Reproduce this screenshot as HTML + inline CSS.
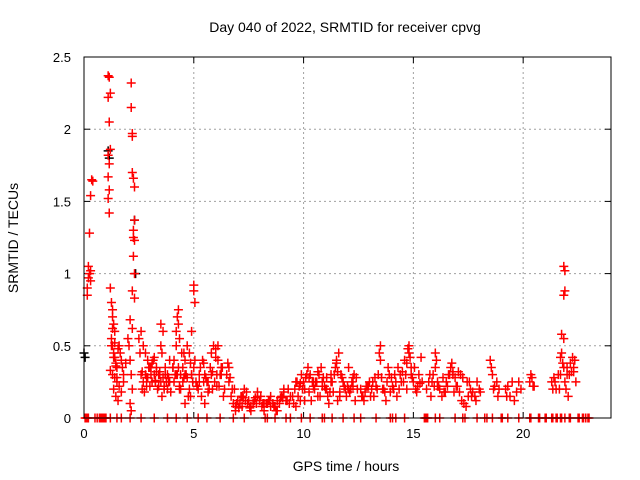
<!DOCTYPE html>
<html><head><meta charset="utf-8"><style>
html,body{margin:0;padding:0;background:#fff;}
svg{display:block;font-family:"Liberation Sans",sans-serif;}
</style></head><body>
<svg id="chart" width="640" height="480">
<text x="345" y="32" font-size="14" text-anchor="middle">Day 040 of 2022, SRMTID for receiver cpvg</text>
<text x="346" y="471" font-size="14" text-anchor="middle">GPS time / hours</text>
<text transform="translate(18,238) rotate(-90)" font-size="14" text-anchor="middle">SRMTID / TECUs</text>
<g id="grid"></g><g id="axes"></g><g id="marks"></g>
<rect x="84" y="57" width="527" height="361" fill="none" stroke="#000" stroke-width="1"/>
</svg>
<script>
const xTicks=[0,5,10,15,20];
const yTicks=[0,0.5,1,1.5,2,2.5];
const yTickLabels=["0","0.5","1","1.5","2","2.5"];
const zeroTimes=[0.05,0.1,0.15,0.2,0.5,0.6,0.7,0.75,0.8,0.85,0.9,0.95,1.0,1.2,1.5,1.7,2.1,2.6,3.2,3.8,4.2,4.7,5.2,5.6,6.2,6.8,7.3,8.25,8.35,8.7,9.2,9.4,9.9,10.3,10.85,10.95,11.3,11.8,12.3,12.6,13.3,13.95,14.05,14.2,14.6,15.5,15.55,15.6,15.65,16.0,16.2,16.9,17.25,17.35,17.9,18.25,18.35,18.6,19.0,19.05,19.3,19.8,20.3,20.35,20.7,20.75,21.0,21.05,21.3,21.35,21.5,21.55,21.7,21.75,21.9,22.1,22.15,22.5,22.55,22.7,22.75,22.85,22.95,23.0];
const blackTimes=[0.0,0.05,1.1,1.15,2.3,2.35];
const blackValues=[0.45,0.42,1.85,1.8,1.37,1.0];
const times=[
0.15,0.15,0.2,0.2,0.25,0.3,0.3,0.25,0.3,0.35,0.4,
1.1,1.15,1.2,1.1,1.15,1.2,1.1,1.15,1.1,1.15,1.1,1.15,
1.2,1.25,1.3,1.3,1.35,1.4,1.25,1.3,1.35,1.4,1.45,1.5,1.2,1.3,1.4,1.5,1.6,1.55,1.65,1.7,1.75,1.8,1.6,1.7,1.8,1.9,1.45,1.55,
2.15,2.15,2.2,2.2,2.2,2.25,2.3,2.3,2.25,2.25,2.3,2.25,2.3,2.2,2.3,2.1,2.2,2.0,2.05,2.1,2.15,2.2,2.1,2.15,
2.5,2.6,2.7,2.8,2.9,3.0,3.1,3.2,3.3,3.4,3.5,3.6,3.7,3.8,3.9,2.6,2.7,2.8,2.9,3.0,3.1,3.2,3.3,3.4,3.5,3.6,3.7,3.8,3.9,2.55,2.75,2.95,3.15,3.35,3.55,3.75,3.95,3.5,3.55,
4.1,4.2,4.2,4.25,4.3,4.3,4.35,4.4,4.5,4.6,4.7,4.8,4.9,5.0,5.0,5.05,4.1,4.2,4.3,4.4,4.5,4.6,4.7,4.8,4.9,5.0,5.1,5.2,4.15,4.45,4.75,5.05,4.6,4.9,
5.3,5.4,5.5,5.6,5.7,5.8,5.9,6.0,6.1,6.2,6.3,6.4,5.35,5.55,5.75,5.95,6.15,6.35,5.5,5.8,6.0,6.1,
6.5,6.6,6.7,6.8,6.9,7.0,7.1,7.2,7.3,7.4,7.5,7.6,7.7,7.8,7.9,8.0,8.1,8.2,8.3,8.4,8.5,8.6,8.7,8.8,8.9,9.0,9.1,9.2,9.3,9.4,6.6,6.75,6.9,7.05,7.2,7.35,7.6,7.9,8.2,8.5,8.8,9.1,
9.5,9.6,9.7,9.8,9.9,10.0,10.1,10.2,10.3,10.4,10.5,10.6,10.7,10.8,10.9,11.0,11.1,11.2,11.3,11.4,11.5,11.6,11.7,11.8,11.9,12.0,12.1,12.2,12.3,12.4,9.55,9.75,9.95,10.15,10.35,10.55,10.75,10.95,11.15,11.35,11.55,11.75,11.95,12.15,12.35,11.45,11.5,11.55,
12.6,12.7,12.8,12.9,13.0,13.1,13.2,13.3,13.4,13.5,13.6,13.7,13.8,13.9,14.0,14.1,14.2,14.3,14.4,14.5,14.6,14.7,14.8,14.9,15.0,15.1,15.2,15.3,15.4,13.45,13.5,14.75,14.8,14.85,12.75,13.25,13.75,14.25,14.65,15.15,
15.6,15.7,15.8,15.9,16.0,16.1,16.2,16.3,16.4,16.5,16.6,16.7,16.8,16.9,17.0,17.1,17.2,17.3,17.4,17.5,17.6,17.7,17.8,17.9,18.0,18.5,18.55,18.6,18.7,18.8,18.9,16.0,16.05,16.75,16.8,17.05,
19.2,19.3,19.5,19.7,19.9,20.3,20.4,20.5,19.4,20.35,
21.3,21.4,21.5,21.6,21.7,21.75,21.8,21.85,21.9,21.95,22.0,22.05,22.1,22.15,22.2,22.25,22.3,22.35,21.85,21.9,21.85,21.9,21.75,21.85,
1.25,1.35,1.45,1.3,1.4,1.5,1.35,2.65,2.85,3.05,3.25,3.45,3.65,3.85,2.65,2.85,3.05,3.25,3.45,3.65,3.85,
4.05,4.25,4.35,4.55,4.65,4.85,4.95,5.15,4.05,4.35,4.55,4.85,5.15,5.25,5.45,5.65,5.85,6.05,6.25,5.25,5.45,5.65,5.85,6.05,6.25,
6.55,6.65,6.85,7.15,7.45,7.75,8.05,8.35,8.65,8.95,9.25,6.95,7.25,7.55,7.85,8.15,8.45,8.75,9.05,9.35,
9.65,9.85,10.05,10.25,10.45,10.65,10.85,11.05,11.25,11.65,11.85,12.05,12.25,12.45,9.65,9.85,10.05,10.25,10.45,10.65,10.85,11.05,11.25,11.65,11.85,12.05,12.25,
12.65,12.85,13.05,13.35,13.55,13.85,14.05,14.35,14.55,14.95,15.05,15.25,12.95,13.15,13.65,13.95,14.15,14.45,14.7,14.9,15.35,
15.75,15.95,16.15,16.35,16.55,16.85,17.15,17.45,17.65,17.85,18.05,18.65,18.85,15.85,16.1,16.45,16.65,16.95,17.25,17.55,
19.25,19.6,19.8,20.45,21.35,21.45,21.65,21.7,22.0,22.3,22.4];
const values=[
0.85,0.9,0.97,1.05,1.0,0.95,1.02,1.28,1.54,1.65,1.64,
2.37,2.36,2.25,2.22,2.05,1.86,1.82,1.76,1.67,1.58,1.52,1.42,
0.9,0.8,0.75,0.7,0.65,0.6,0.55,0.5,0.45,0.42,0.38,0.35,0.33,0.3,0.28,0.25,0.5,0.48,0.45,0.4,0.35,0.3,0.22,0.18,0.25,0.38,0.15,0.12,
2.32,2.15,1.97,1.95,1.7,1.66,1.6,1.37,1.3,1.25,1.23,1.12,1.0,0.88,0.83,0.68,0.62,0.55,0.5,0.4,0.3,0.2,0.1,0.05,
0.55,0.6,0.5,0.45,0.4,0.35,0.38,0.42,0.35,0.3,0.65,0.6,0.35,0.3,0.4,0.3,0.25,0.3,0.28,0.22,0.25,0.3,0.32,0.22,0.25,0.28,0.3,0.2,0.25,0.45,0.18,0.35,0.4,0.2,0.15,0.25,0.18,0.5,0.45,
0.4,0.5,0.6,0.7,0.75,0.65,0.55,0.3,0.35,0.4,0.5,0.45,0.6,0.92,0.88,0.8,0.25,0.3,0.35,0.2,0.25,0.3,0.28,0.2,0.3,0.35,0.25,0.2,0.3,0.45,0.15,0.4,0.1,0.3,
0.35,0.4,0.3,0.25,0.2,0.45,0.5,0.48,0.4,0.3,0.35,0.2,0.15,0.28,0.35,0.25,0.22,0.15,0.1,0.3,0.42,0.5,
0.3,0.25,0.15,0.1,0.08,0.12,0.1,0.15,0.2,0.18,0.12,0.05,0.1,0.14,0.15,0.12,0.08,0.05,0.1,0.12,0.15,0.1,0.08,0.05,0.1,0.15,0.18,0.12,0.2,0.15,0.35,0.2,0.05,0.07,0.08,0.12,0.08,0.18,0.1,0.08,0.12,0.2,
0.15,0.2,0.25,0.22,0.3,0.25,0.28,0.35,0.3,0.25,0.2,0.25,0.3,0.35,0.28,0.2,0.15,0.18,0.25,0.3,0.4,0.45,0.3,0.25,0.2,0.22,0.18,0.25,0.3,0.28,0.1,0.15,0.2,0.3,0.12,0.25,0.15,0.22,0.1,0.18,0.12,0.28,0.15,0.2,0.12,0.35,0.38,0.32,
0.2,0.15,0.18,0.22,0.25,0.2,0.15,0.22,0.3,0.4,0.2,0.18,0.25,0.3,0.28,0.2,0.25,0.35,0.3,0.32,0.4,0.38,0.45,0.35,0.25,0.2,0.22,0.24,0.25,0.45,0.5,0.48,0.5,0.42,0.12,0.28,0.12,0.15,0.3,0.18,
0.2,0.25,0.15,0.3,0.35,0.25,0.2,0.15,0.18,0.25,0.3,0.35,0.32,0.28,0.22,0.18,0.12,0.1,0.08,0.15,0.2,0.18,0.15,0.25,0.2,0.4,0.35,0.3,0.22,0.25,0.2,0.45,0.4,0.38,0.3,0.32,
0.2,0.22,0.25,0.18,0.2,0.25,0.28,0.22,0.15,0.3,
0.25,0.28,0.2,0.3,0.42,0.45,0.38,0.35,0.25,0.2,0.3,0.15,0.3,0.38,0.32,0.42,0.35,0.4,1.05,1.02,0.85,0.88,0.58,0.55,
0.5,0.42,0.36,0.62,0.52,0.28,0.2,0.32,0.28,0.35,0.25,0.3,0.22,0.28,0.2,0.22,0.3,0.26,0.32,0.2,0.25,0.35,
0.3,0.22,0.45,0.3,0.38,0.25,0.22,0.35,0.2,0.28,0.15,0.22,0.3,0.38,0.25,0.32,0.22,0.3,0.25,0.25,0.18,0.2,0.3,0.35,0.38,0.28,
0.2,0.15,0.1,0.12,0.15,0.1,0.08,0.14,0.12,0.1,0.14,0.07,0.1,0.1,0.12,0.05,0.14,0.1,0.08,0.12,
0.2,0.18,0.25,0.32,0.22,0.28,0.25,0.18,0.22,0.35,0.22,0.2,0.25,0.24,0.12,0.28,0.22,0.15,0.25,0.2,0.3,0.15,0.22,0.2,0.28,0.15,0.22,
0.15,0.2,0.28,0.35,0.22,0.2,0.25,0.28,0.35,0.3,0.22,0.25,0.2,0.18,0.3,0.25,0.2,0.3,0.42,0.3,0.22,
0.22,0.28,0.22,0.18,0.3,0.25,0.15,0.12,0.18,0.2,0.15,0.25,0.22,0.18,0.3,0.22,0.28,0.25,0.15,0.12,
0.25,0.22,0.2,0.25,0.2,0.3,0.35,0.32,0.25,0.35,0.32];

const NS="http://www.w3.org/2000/svg";
const X0=84,X1=611,Y0=418,Y1=57,XMAX=24,YMAX=2.5;
function sx(t){return X0+t/XMAX*(X1-X0);}
function sy(v){return Y0-v/YMAX*(Y0-Y1);}
function mk(tag,attrs,parent){const e=document.createElementNS(NS,tag);for(const k in attrs)e.setAttribute(k,attrs[k]);parent.appendChild(e);return e;}
const grid=document.getElementById('grid'),axes=document.getElementById('axes'),marks=document.getElementById('marks');
xTicks.forEach(t=>{const x=sx(t);
 if(t>0){const g=mk('line',{x1:x,x2:x,y1:Y1,y2:Y0,stroke:'#a0a0a0','stroke-dasharray':'2,3'},grid);
 
 }
 mk('line',{x1:x,x2:x,y1:Y0,y2:Y0-6,stroke:'#000'},axes);
 mk('line',{x1:x,x2:x,y1:Y1,y2:Y1+6,stroke:'#000'},axes);
 const l=mk('text',{x:x,y:Y0+20,'font-size':13,'text-anchor':'middle'},axes);l.textContent=t;
 
 
});
yTicks.forEach((v,i)=>{const y=sy(v);
 if(v>0&&v<YMAX){const g=mk('line',{x1:X0,x2:X1,y1:y,y2:y,stroke:'#a0a0a0','stroke-dasharray':'2,3'},grid);
 
 }
 mk('line',{x1:X0,x2:X0+6,y1:y,y2:y,stroke:'#000'},axes);
 mk('line',{x1:X1,x2:X1-6,y1:y,y2:y,stroke:'#000'},axes);
 const l=mk('text',{x:X0-13,y:y+5,'font-size':13,'text-anchor':'end'},axes);l.textContent=yTickLabels[i];
 
 
});
function plus(t,v,c,name){const x=sx(t),y=sy(v);
 const p=mk('path',{d:`M${x-4.5},${y}h9M${x},${y-4.5}v9`,stroke:c,'stroke-width':1.5,fill:'none'},marks);
 
 }
blackTimes.forEach((t,i)=>plus(t,blackValues[i],'#000','black-point'));
times.forEach((t,i)=>plus(t,values[i],'#ff0000','srmtid-point'));
zeroTimes.forEach(t=>plus(t,0,'#ff0000','zero-point'));
</script>
</body></html>
